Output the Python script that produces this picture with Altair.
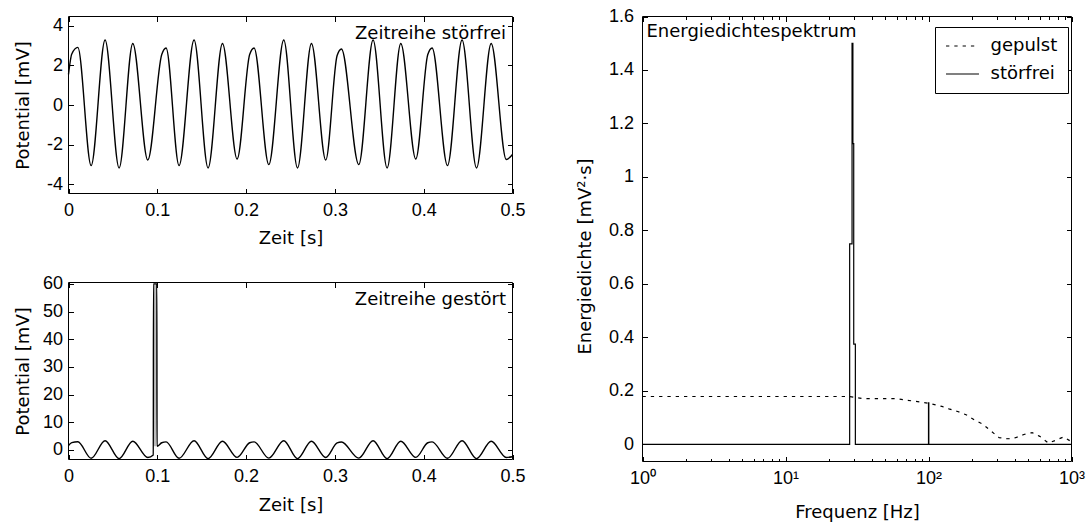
import altair as alt
import pandas as pd

W, H = 1089, 522
TXT = "DejaVu Sans"
NUM = "Liberation Sans"
T_MAJ, T_MIN = 5, 3

# ---------------- data ----------------
# Zeitreihe störfrei: extrema / shoulder points of the sampled signal
t_stoerfrei = [0.0, 0.0037, 0.0105, 0.0255, 0.0412, 0.0570, 0.0724, 0.0893, 0.1050, 0.1099,
               0.1245, 0.1414, 0.1572, 0.1734, 0.1899, 0.2040, 0.2090, 0.2256, 0.2424, 0.2579,
               0.2736, 0.2897, 0.3025, 0.3074, 0.3269, 0.3430, 0.3588, 0.3742, 0.3911, 0.4046,
               0.4095, 0.4268, 0.4432, 0.4595, 0.4760, 0.4930, 0.5000]
v_stoerfrei = [1.55, 2.58, 2.91, -3.06, 3.28, -3.18, 3.11, -2.78, 2.55, 2.88,
               -3.06, 3.28, -3.18, 3.11, -2.73, 2.55, 2.88, -3.01, 3.28, -3.18,
               3.11, -2.78, 2.50, 2.83, -3.01, 3.28, -3.18, 3.11, -2.73, 2.55,
               2.88, -3.06, 3.28, -3.18, 3.11, -2.75, -2.50]

# Störimpuls in der gestörten Zeitreihe
pulse_t = [0.0955, 0.0957, 0.0995, 0.0997]
pulse_v = [-1.9, 60.0, 60.0, 1.3]
pulse_fill_t = [0.0957, 0.0995]
pulse_fill_v = [1.3, 60.0]

# Energiedichtespektrum
f_gepulst = [1, 28, 35, 60, 70, 79, 90, 104, 124, 139, 160, 183, 209, 240, 275, 312,
             360, 407, 464, 530, 600, 689, 790, 880, 1000]
e_gepulst = [0.179, 0.179, 0.171, 0.171, 0.165, 0.162, 0.158, 0.152, 0.142, 0.133, 0.123,
             0.111, 0.092, 0.075, 0.049, 0.025, 0.021, 0.025, 0.037, 0.044, 0.030, 0.005,
             0.017, 0.028, 0.010]
f_stoerfrei = [1, 28.1, 29.2, 29.6, 30.0, 30.8, 100, 100.5, 1000]
e_stoerfrei = [0, 0.75, 1.5, 1.125, 0.375, 0, 0.155, 0, 0]

legend_labels = ["gepulst", "störfrei"]

x_ticks_time = [0, 0.1, 0.2, 0.3, 0.4, 0.5]
y_ticks_top = [-4, -2, 0, 2, 4]
y_ticks_bottom = [0, 10, 20, 30, 40, 50, 60]
y_ticks_spec = [0, 0.2, 0.4, 0.6, 0.8, 1.0, 1.2, 1.4, 1.6]
f_ticks_major = [1, 10, 100, 1000]
f_ticks_minor = [2, 3, 4, 5, 6, 7, 8, 9, 20, 30, 40, 50, 60, 70, 80, 90,
                 200, 300, 400, 500, 600, 700, 800, 900]

# ---------------- panel geometry (pixels) ----------------
P1 = dict(x0=68.5, x1=512.5, y0=16.5, y1=193.5, xd=[0, 0.5], yd=[-4.47, 4.47], xt="linear")
P2 = dict(x0=68.5, x1=512.5, y0=282.5, y1=459.5, xd=[0, 0.5], yd=[-3.5, 60.5], xt="linear")
P3 = dict(x0=642.5, x1=1071.5, y0=16.5, y1=461.5, xd=[1, 1000], yd=[-0.064, 1.6], xt="log")


def xs(p):
    return alt.Scale(type=p["xt"], domain=p["xd"], range=[p["x0"], p["x1"]], nice=False, zero=False)


def ys(p):
    return alt.Scale(type="linear", domain=p["yd"], range=[p["y1"], p["y0"]], nice=False, zero=False)


LBL = "'' + datum.value"


def ax_bottom(p, values, tick=T_MAJ, labels=True, title=None, title_y=None, label_expr=LBL):
    pos = p["y1"] - tick
    kw = dict(orient="bottom", values=values, tickSize=tick, tickColor="black", tickWidth=1,
              domain=False, grid=False, offset=pos - H, labels=labels, labelFlush=False,
              labelOverlap=False)
    if labels:
        kw.update(labelExpr=label_expr, labelFont=NUM, labelFontSize=18, labelColor="black",
                  labelPadding=8)
    if title:
        kw.update(title=title, titleFont=TXT, titleFontSize=18, titleFontWeight="normal",
                  titleColor="black", titleX=(p["x0"] + p["x1"]) / 2, titleY=title_y - pos,
                  titleAlign="center", titleBaseline="middle")
    else:
        kw.update(title=None)
    return alt.Axis(**kw)


def ax_top(p, values, tick=T_MAJ):
    return alt.Axis(orient="top", values=values, tickSize=tick, tickColor="black", tickWidth=1,
                    domain=False, grid=False, offset=-(p["y0"] + tick), labels=False, title=None)


def ax_left(p, values, title, title_x, title_y, pad):
    pos = p["x0"] + T_MAJ
    return alt.Axis(orient="left", values=values, tickSize=T_MAJ, tickColor="black", tickWidth=1,
                    domain=False, grid=False, offset=-pos, labelExpr=LBL, labelFont=NUM,
                    labelFontSize=18, labelColor="black", labelPadding=pad, labelOverlap=False,
                    labelFlush=False, title=title, titleFont=TXT, titleFontSize=18,
                    titleFontWeight="normal", titleColor="black", titleX=title_x - pos,
                    titleY=title_y, titleAngle=270, titleAlign="center", titleBaseline="middle")


def ax_right(p, values):
    return alt.Axis(orient="right", values=values, tickSize=T_MAJ, tickColor="black", tickWidth=1,
                    domain=False, grid=False, offset=(p["x1"] - T_MAJ) - W, labels=False, title=None)


def box(p, xaxis, yaxis, visible=True):
    df = pd.DataFrame({"xa": [p["xd"][0]], "xb": [p["xd"][1]], "ya": [p["yd"][0]], "yb": [p["yd"][1]]})
    return alt.Chart(df).mark_rect(filled=False, color="black", strokeWidth=1,
                                   opacity=1 if visible else 0).encode(
        x=alt.X("xa:Q", scale=xs(p), axis=xaxis), x2="xb:Q",
        y=alt.Y("ya:Q", scale=ys(p), axis=yaxis), y2="yb:Q")


def line(df, p, **mk):
    return alt.Chart(df).mark_line(color="black", strokeWidth=1.4, **mk).encode(
        x=alt.X("x:Q", scale=xs(p), axis=None), y=alt.Y("y:Q", scale=ys(p), axis=None))


def label(text, p, xv, yv, align, dx, dy):
    df = pd.DataFrame({"label": [text]})
    return alt.Chart(df).mark_text(align=align, baseline="alphabetic", dx=dx, dy=dy, font=TXT,
                                   fontSize=18, color="black").encode(
        x=alt.XDatum(xv, scale=xs(p), axis=None), y=alt.YDatum(yv, scale=ys(p), axis=None),
        text="label:N")


# ---------------- data frames ----------------
df_sf = pd.DataFrame({"x": t_stoerfrei, "y": v_stoerfrei})
keep = [(t, v) for t, v in zip(t_stoerfrei, v_stoerfrei) if t < pulse_t[0] or t > pulse_t[-1]]
gest = sorted(keep + list(zip(pulse_t, pulse_v)))
df_gs = pd.DataFrame({"x": [a for a, _ in gest], "y": [b for _, b in gest]})
df_fill = pd.DataFrame({"x": [pulse_fill_t[0]], "x2": [pulse_fill_t[1]],
                        "y": [pulse_fill_v[0]], "y2": [pulse_fill_v[1]]})
df_gep = pd.DataFrame({"x": f_gepulst, "y": e_gepulst, "series": legend_labels[0]})
df_stf = pd.DataFrame({"x": f_stoerfrei, "y": e_stoerfrei, "series": legend_labels[1]})

# ---------------- panel 1 ----------------
layers = []
layers.append(box(P1, ax_bottom(P1, x_ticks_time, title="Zeit [s]", title_y=238),
                  ax_left(P1, y_ticks_top, "Potential [mV]", 23, 105, 6)))
layers.append(box(P1, ax_top(P1, x_ticks_time), ax_right(P1, y_ticks_top), visible=False))
layers.append(line(df_sf, P1, interpolate="monotone"))
layers.append(label("Zeitreihe störfrei", P1, P1["xd"][1], P1["yd"][1], "right", -6.5, 22.5))

# ---------------- panel 2 ----------------
layers.append(alt.Chart(df_fill).mark_rect(color="#bdbdbd").encode(
    x=alt.X("x:Q", scale=xs(P2), axis=None), x2="x2:Q",
    y=alt.Y("y:Q", scale=ys(P2), axis=None), y2="y2:Q"))
layers.append(box(P2, ax_bottom(P2, x_ticks_time, title="Zeit [s]", title_y=505),
                  ax_left(P2, y_ticks_bottom, "Potential [mV]", 23, 371, 6)))
layers.append(box(P2, ax_top(P2, x_ticks_time), ax_right(P2, y_ticks_bottom), visible=False))
layers.append(line(df_gs, P2, interpolate="monotone"))
layers.append(label("Zeitreihe gestört", P2, P2["xd"][1], P2["yd"][1], "right", -6.5, 22.5))

# ---------------- panel 3 ----------------
sup = ("'10' + (datum.value < 5 ? '\u2070' : datum.value < 50 ? '\u00b9' : "
       "datum.value < 500 ? '\u00b2' : '\u00b3')")
layers.append(box(P3, ax_bottom(P3, f_ticks_major, title="Frequenz [Hz]", title_y=512,
                                label_expr=sup),
                  ax_left(P3, y_ticks_spec, "Energiedichte [mV\u00b2\u00b7s]", 585, 256, 9)))
layers.append(box(P3, ax_top(P3, f_ticks_major), ax_right(P3, y_ticks_spec), visible=False))
layers.append(box(P3, ax_bottom(P3, f_ticks_minor, tick=T_MIN, labels=False), None, visible=False))
layers.append(box(P3, ax_top(P3, f_ticks_minor, tick=T_MIN), None, visible=False))

dash = alt.Scale(domain=legend_labels, range=[[3.3, 5], [1, 0]])
leg = alt.Legend(orient="none", legendX=935, legendY=27, title=None, strokeColor="black",
                 fillColor="white", padding=10, cornerRadius=0, symbolType="M-2.06,0H2.06",
                 symbolSize=256, symbolOffset=8.5, labelOffset=19, rowPadding=10,
                 symbolStrokeColor="black", symbolStrokeWidth=1.2, labelFont=TXT,
                 labelFontSize=18, labelColor="black")

layers.append(alt.Chart(df_gep).mark_line(color="black", strokeWidth=1.2).encode(
    x=alt.X("x:Q", scale=xs(P3), axis=None), y=alt.Y("y:Q", scale=ys(P3), axis=None),
    strokeDash=alt.StrokeDash("series:N", scale=dash, legend=leg)))
layers.append(alt.Chart(df_stf).mark_line(color="black", strokeWidth=1.2,
                                          interpolate="step-after").encode(
    x=alt.X("x:Q", scale=xs(P3), axis=None), y=alt.Y("y:Q", scale=ys(P3), axis=None),
    strokeDash=alt.StrokeDash("series:N", scale=dash, legend=leg)))
layers.append(label("Energiedichtespektrum", P3, P3["xd"][0], P3["yd"][1], "left", 4, 20.5))

chart = alt.layer(*layers).resolve_scale(x="independent", y="independent").properties(
    width=W, height=H, autosize=alt.AutoSizeParams(type="none"),
    padding={"left": 0, "top": 0, "right": 0, "bottom": 0}, background="white"
).configure_view(stroke=None)

chart.save("out.html", embed_options={"renderer": "svg", "actions": False})
